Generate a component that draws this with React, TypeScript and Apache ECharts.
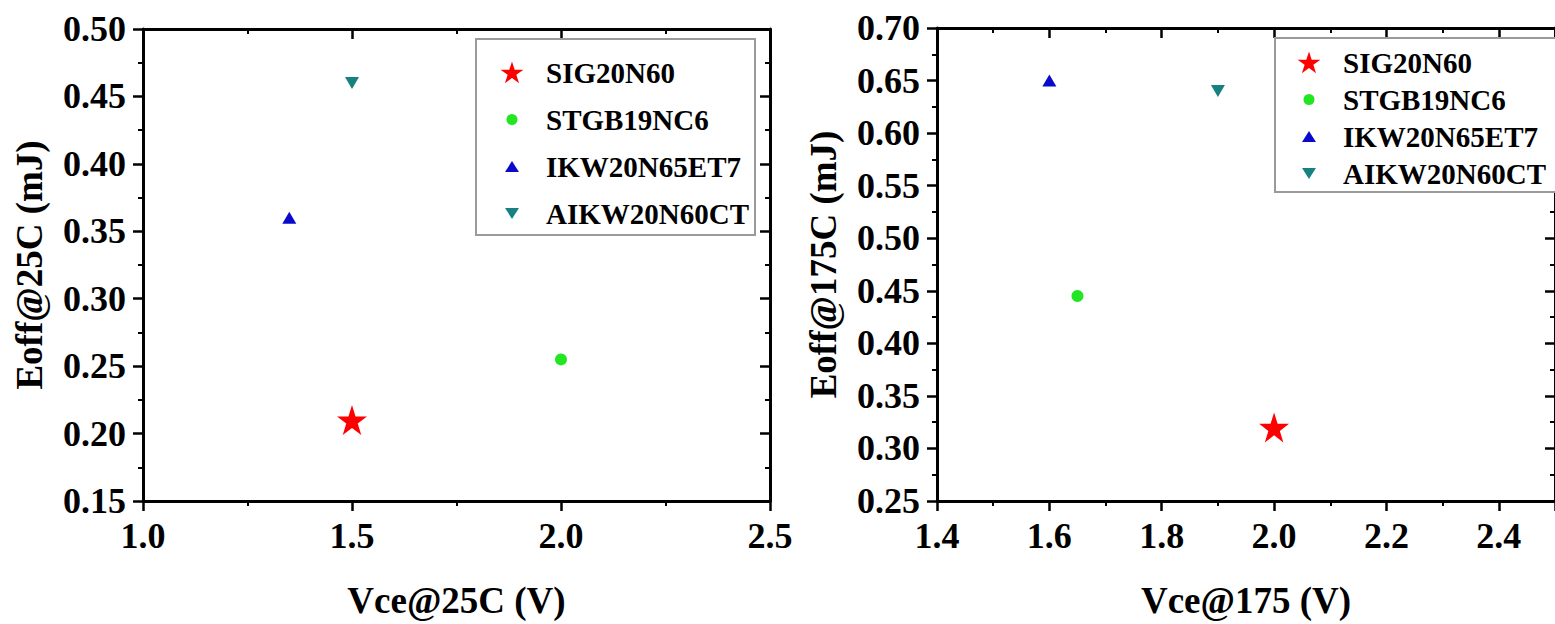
import React, { useEffect, useRef } from 'react';
import * as echarts from 'echarts';

// ---- data ----
const seriesNames = ['SIG20N60', 'STGB19NC6', 'IKW20N65ET7', 'AIKW20N60CT'];
const vce25 = [1.5, 2.0, 1.35, 1.5];
const eoff25 = [0.21, 0.255, 0.36, 0.46];
const vce175 = [2.0, 1.65, 1.6, 1.9];
const eoff175 = [0.32, 0.445, 0.65, 0.64];
const seriesColors = ['#ff0000', '#22e622', '#0a0acc', '#178080'];

const leftTitles = { x: 'Vce@25C (V)', y: 'Eoff@25C (mJ)' };
const rightTitles = { x: 'Vce@175 (V)', y: 'Eoff@175C (mJ)' };

const FONT = "'Times New Roman', 'Liberation Serif', serif";

const STAR = 'path://M50,0 L61.2,34.5 L97.6,34.5 L68.2,55.9 L79.4,90.5 L50,69.1 L20.6,90.5 L31.8,55.9 L2.4,34.5 L38.8,34.5 Z';
const DOWN = 'path://M0,0 L100,0 L50,86 Z';
const seriesSymbols = [STAR, 'circle', 'triangle', DOWN];
const seriesSizes: any[] = [30, 12, [14, 12], [14, 12]];

// legend icons: bounding box 171 x 100 (maps onto 41 x 24 px), shape centred at x = 50
const BOX = 'M0,0 M171,100 ';
const legendIcons = [
  'path://' + BOX + 'M50,4 L61.2,38.5 L97.6,38.5 L68.2,59.9 L79.4,94.5 L50,73.1 L20.6,94.5 L31.8,59.9 L2.4,38.5 L38.8,38.5 Z',
  'path://' + BOX + 'M27,50 A23,23 0 1,0 73,50 A23,23 0 1,0 27,50 Z',
  'path://' + BOX + 'M50,27 L79,73 L21,73 Z',
  'path://' + BOX + 'M21,27 L79,27 L50,73 Z',
];

const axisLine = { show: true, onZero: false, lineStyle: { color: '#000', width: 3 } };
const tickStyle = { color: '#000', width: 2.5 };
const minorStyle = { color: '#000', width: 2 };

function mainX(grid: number, min: number, max: number, interval: number, name: string, showMax: boolean) {
  return {
    type: 'value', gridIndex: grid, position: 'bottom', min, max, interval,
    axisLine,
    axisTick: { show: true, inside: false, length: 10, lineStyle: tickStyle },
    minorTick: { show: true, splitNumber: 2, length: 5, lineStyle: minorStyle },
    splitLine: { show: false },
    axisLabel: {
      margin: 17, fontSize: 36, fontWeight: 'bold', fontFamily: FONT, color: '#000',
      formatter: (v: number) => v.toFixed(1), showMinLabel: true, showMaxLabel: showMax,
    },
    name, nameLocation: 'middle', nameGap: 81,
    nameTextStyle: { fontSize: 37, fontWeight: 'bold', fontFamily: FONT, color: '#000' },
  };
}
function mirrorX(grid: number, min: number, max: number, interval: number) {
  return {
    type: 'value', gridIndex: grid, position: 'top', min, max, interval,
    axisLine,
    axisTick: { show: true, inside: true, length: 10, lineStyle: tickStyle },
    minorTick: { show: true, splitNumber: 2, length: 5, lineStyle: minorStyle },
    splitLine: { show: false },
    axisLabel: { show: false },
  };
}
function mainY(grid: number, min: number, max: number, interval: number, name: string) {
  return {
    type: 'value', gridIndex: grid, position: 'left', min, max, interval,
    axisLine,
    axisTick: { show: true, inside: false, length: 10, lineStyle: tickStyle },
    minorTick: { show: true, splitNumber: 2, length: 5, lineStyle: minorStyle },
    splitLine: { show: false },
    axisLabel: {
      margin: 17, fontSize: 36, fontWeight: 'bold', fontFamily: FONT, color: '#000',
      formatter: (v: number) => v.toFixed(2), showMinLabel: true, showMaxLabel: true,
    },
    name, nameLocation: 'middle', nameGap: 95,
    nameTextStyle: { fontSize: 37, fontWeight: 'bold', fontFamily: FONT, color: '#000' },
  };
}
function mirrorY(grid: number, min: number, max: number, interval: number) {
  return {
    type: 'value', gridIndex: grid, position: 'right', min, max, interval,
    axisLine,
    axisTick: { show: true, inside: true, length: 10, lineStyle: tickStyle },
    minorTick: { show: true, splitNumber: 2, length: 5, lineStyle: minorStyle },
    splitLine: { show: false },
    axisLabel: { show: false },
  };
}

function legend(left: number, top: number, itemGap: number, padding: number[]) {
  return {
    orient: 'vertical', left, top, itemGap, padding,
    itemWidth: 41, itemHeight: 24,
    borderColor: '#9a9a9a', borderWidth: 2, backgroundColor: '#fff',
    textStyle: { fontSize: 29, fontWeight: 'bold', fontFamily: FONT, color: '#000' },
    data: seriesNames.map((n, i) => ({ name: n, icon: legendIcons[i] })),
    selectedMode: false,
  };
}

export default function App() {
  const ref = useRef<HTMLDivElement>(null);
  useEffect(() => {
    if (!ref.current) return;
    const chart = echarts.init(ref.current, undefined, { renderer: 'svg' });
    const series: any[] = [];
    seriesNames.forEach((n, i) => {
      series.push({
        type: 'scatter', name: n, xAxisIndex: 0, yAxisIndex: 0,
        symbol: seriesSymbols[i], symbolSize: seriesSizes[i],
        itemStyle: { color: seriesColors[i], opacity: 1 },
        data: [[vce25[i], eoff25[i]]],
      });
    });
    seriesNames.forEach((n, i) => {
      series.push({
        type: 'scatter', name: n, xAxisIndex: 2, yAxisIndex: 2,
        symbol: seriesSymbols[i], symbolSize: seriesSizes[i],
        itemStyle: { color: seriesColors[i], opacity: 1 },
        data: [[vce175[i], eoff175[i]]],
      });
    });
    chart.setOption({
      animation: false,
      backgroundColor: '#fff',
      grid: [
        { left: 143, top: 29, width: 627, height: 477 },
        { left: 937, top: 28, width: 631, height: 479 },
      ],
      xAxis: [
        mainX(0, 1.0, 2.5, 0.5, leftTitles.x, true),
        mirrorX(0, 1.0, 2.5, 0.5),
        mainX(1, 1.4, 2.5, 0.2, rightTitles.x, false),
        mirrorX(1, 1.4, 2.5, 0.2),
      ],
      yAxis: [
        mainY(0, 0.15, 0.5, 0.05, leftTitles.y),
        mirrorY(0, 0.15, 0.5, 0.05),
        mainY(1, 0.25, 0.7, 0.05, rightTitles.y),
        mirrorY(1, 0.25, 0.7, 0.05),
      ],
      legend: [
        legend(476, 39, 18, [19, 6, 7, 24]),
        legend(1275, 38, 8, [10, 20, 4, 22]),
      ],
      series,
    });
    return () => chart.dispose();
  }, []);
  return (
    <div
      ref={ref}
      style={{ position: 'absolute', left: 0, top: 0, width: 1555, height: 624, overflow: 'hidden' }}
    />
  );
}
